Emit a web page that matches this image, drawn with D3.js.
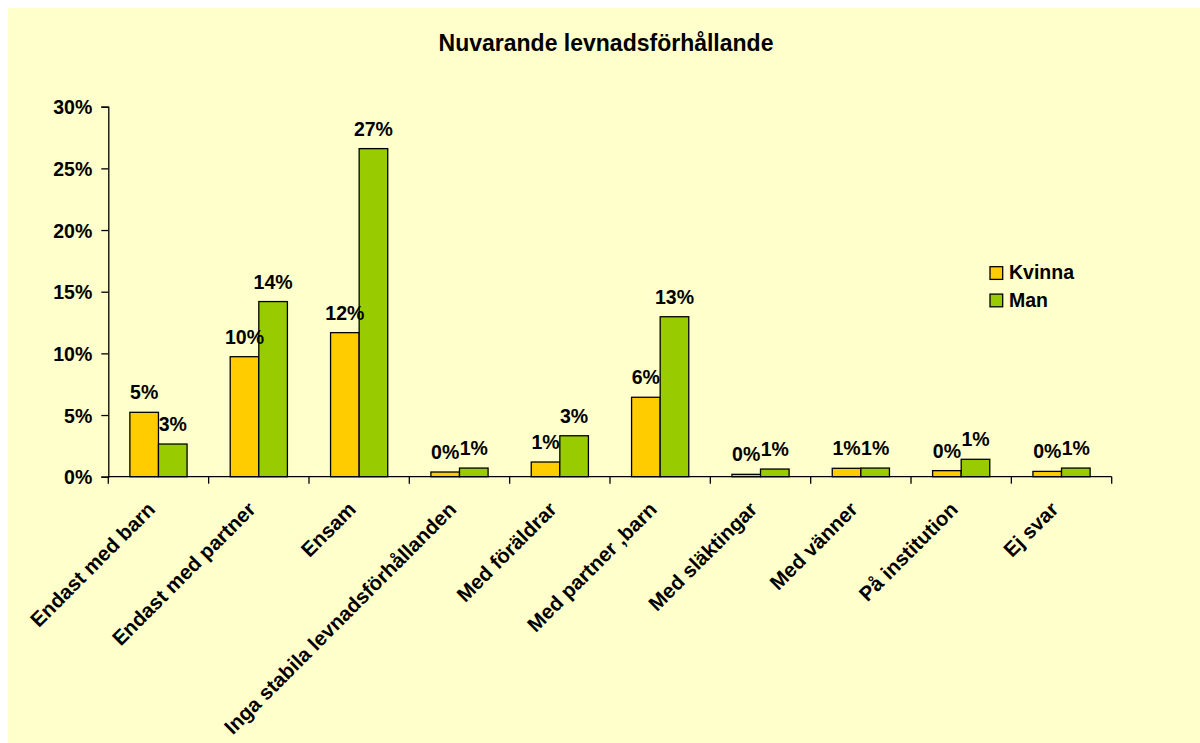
<!DOCTYPE html>
<html><head><meta charset="utf-8">
<script src="https://cdn.jsdelivr.net/npm/d3@7"></script>
<style>
html,body{margin:0;padding:0;background:#fff;}
text{font-family:"Liberation Sans",Arial,Helvetica,sans-serif;font-weight:bold;fill:#000;}
</style></head>
<body>
<svg id="chart" width="1200" height="743"></svg>
<script>
const categories = ["Endast med barn","Endast med partner","Ensam","Inga stabila levnadsförhållanden","Med föräldrar","Med partner ,barn","Med släktingar","Med vänner","På institution","Ej svar"];
const seriesNames = ["Kvinna","Man"];
const kvinna = [0.0522,0.0973,0.1168,0.0038,0.0119,0.0644,0.0019,0.0068,0.0049,0.0043];
const man    = [0.0265,0.1420,0.2660,0.0070,0.0332,0.1297,0.0062,0.0070,0.0141,0.0070];
const yTicks = [0,0.05,0.10,0.15,0.20,0.25,0.30];
const colors = ["#FFCC00","#99CC00"];
const title = "Nuvarande levnadsförhållande";

const svg = d3.select("#chart");
svg.append("rect").attr("x",8).attr("y",8).attr("width",1192).attr("height",735).attr("fill","#FFFFCC");

const x0 = 108.3, x1 = 1111.7, yBottom = 476.7, yTop = 106.7;
const x = d3.scaleBand().domain(categories).range([x0,x1]).paddingInner(0).paddingOuter(0);
const y = d3.scaleLinear().domain([0,0.30]).range([yBottom,yTop]);
const groupPad = 0.215;
const xs = d3.scaleBand().domain(seriesNames)
  .range([x.bandwidth()*groupPad, x.bandwidth()*(1-groupPad)]).padding(0);

svg.append("text").attr("x",606).attr("y",51).attr("text-anchor","middle")
  .style("font-size","23px").text(title);

// Y axis
const yAxis = d3.axisLeft(y).tickValues(yTicks).tickFormat(d3.format(".0%")).tickSizeOuter(0).tickSize(7).tickPadding(9);
const gy = svg.append("g").attr("transform",`translate(${x0},0)`).call(yAxis);
gy.selectAll("path,line").attr("stroke","#000").attr("stroke-width",1.3);
gy.selectAll("text").style("font-size","19.5px").attr("dy","0.36em");

// bars
const data = categories.map((c,i)=>({c, vals:[kvinna[i],man[i]]}));
const groups = svg.append("g").selectAll("g").data(data).join("g")
  .attr("transform",d=>`translate(${x(d.c)},0)`);
groups.selectAll("rect").data(d=>d.vals.map((v,j)=>({v,s:seriesNames[j],j}))).join("rect")
  .attr("x",d=>xs(d.s)).attr("width",xs.bandwidth())
  .attr("y",d=>y(d.v)).attr("height",d=>yBottom-y(d.v))
  .attr("fill",d=>colors[d.j]).attr("stroke","#000").attr("stroke-width",1.3);
groups.selectAll("text").data(d=>d.vals.map((v,j)=>({v,s:seriesNames[j],j}))).join("text")
  .attr("x",d=>xs(d.s)+xs.bandwidth()/2).attr("y",d=>y(d.v)-13)
  .attr("text-anchor","middle").style("font-size","19.5px")
  .text(d=>d3.format(".0%")(d.v));

// X axis
const gx = svg.append("g").attr("transform",`translate(0,${yBottom})`);
gx.append("line").attr("x1",x0).attr("x2",x1).attr("y1",0).attr("y2",0).attr("stroke","#000").attr("stroke-width",1.3);
const bounds = categories.map(c=>x(c)).concat([x1]);
gx.selectAll("line.tk").data(bounds).join("line").attr("class","tk")
  .attr("x1",d=>d).attr("x2",d=>d).attr("y1",0).attr("y2",7).attr("stroke","#000").attr("stroke-width",1.3);
gx.selectAll("text").data(categories).join("text")
  .attr("transform",d=>`translate(${x(d)+x.bandwidth()/2-2},${34}) rotate(-45)`)
  .attr("text-anchor","end").style("font-size","20.5px").text(d=>d);

// legend
const lg = svg.append("g").attr("transform","translate(990,266.7)");
seriesNames.forEach((s,i)=>{
  lg.append("rect").attr("x",0).attr("y",i*27.4).attr("width",12.7).attr("height",12.7)
    .attr("fill",colors[i]).attr("stroke","#000").attr("stroke-width",1.3);
  lg.append("text").attr("x",19).attr("y",i*27.4+12.7).style("font-size","19.5px").text(s);
});
</script>
</body></html>
